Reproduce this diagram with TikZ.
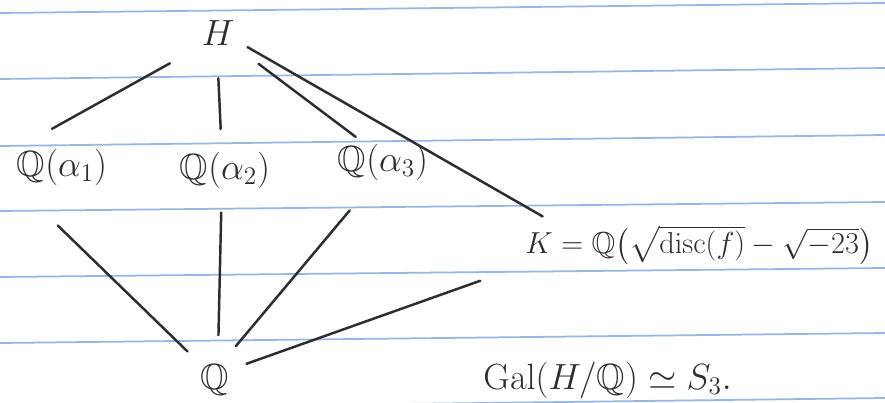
\documentclass[tikz,border=0pt]{standalone}
\usepackage{amsmath,amssymb}
\definecolor{paperblue}{RGB}{150,182,228}
\definecolor{ink}{RGB}{45,45,45}

\begin{document}
\begin{tikzpicture}[x=0.02cm,y=-0.02cm,font=\huge,
  ruling/.style={draw=paperblue,line width=1pt},
  link/.style={draw=ink,line width=1.4pt,line cap=round},
  every node/.style={inner sep=0pt,text=ink}]
\useasboundingbox[fill=white] (0,0) rectangle (885,402);
% ruled paper
\foreach \yl/\yr in {13/3,79/68,146/135,211/202,277/268,343/333,409/398}
  \draw[ruling] (0,\yl) -- (885,\yr);
% fields
\node (h) at (218,33) {$H$};
\node (a1) at (62,167) {$\mathbb{Q}(\alpha_1)$};
\node (a2) at (225,170) {$\mathbb{Q}(\alpha_2)$};
\node (a3) at (383,162) {$\mathbb{Q}(\alpha_3)$};
\node[anchor=west,font=\LARGE] (k) at (525,245) {$K = \mathbb{Q}\bigl(\sqrt{\mathrm{disc}(f)} - \sqrt{-23}\bigr)$};
\node (q) at (215,380) {$\mathbb{Q}$};
\node[anchor=west] (gal) at (483,380) {$\mathrm{Gal}(H/\mathbb{Q}) \simeq S_3.$};
% lattice
\draw[link,shorten <=0.72cm,shorten >=0.81cm] (h.south west) -- (a1.north west);
\draw[link,shorten <=0.65cm,shorten >=0.45cm] (h.-95) -- (a2.100);
\draw[link,shorten <=0.6cm,shorten >=0.22cm] (h.south east) -- (a3.135);
\draw[link,shorten <=0.3cm,shorten >=0.35cm] (h.-22) -- (k.172);
\draw[link,shorten <=1.15cm,shorten >=0.36cm] (a1.south west) -- (q.north west);
\draw[link,shorten <=0.48cm,shorten >=0.58cm] (a2.-100) -- (q.80);
\draw[link,shorten <=0.78cm,shorten >=0.47cm] (a3.-114) -- (q.70);
\draw[link,shorten <=0.95cm,shorten >=0.36cm] (k.south west) -- (q.35);
\end{tikzpicture}
\end{document}
